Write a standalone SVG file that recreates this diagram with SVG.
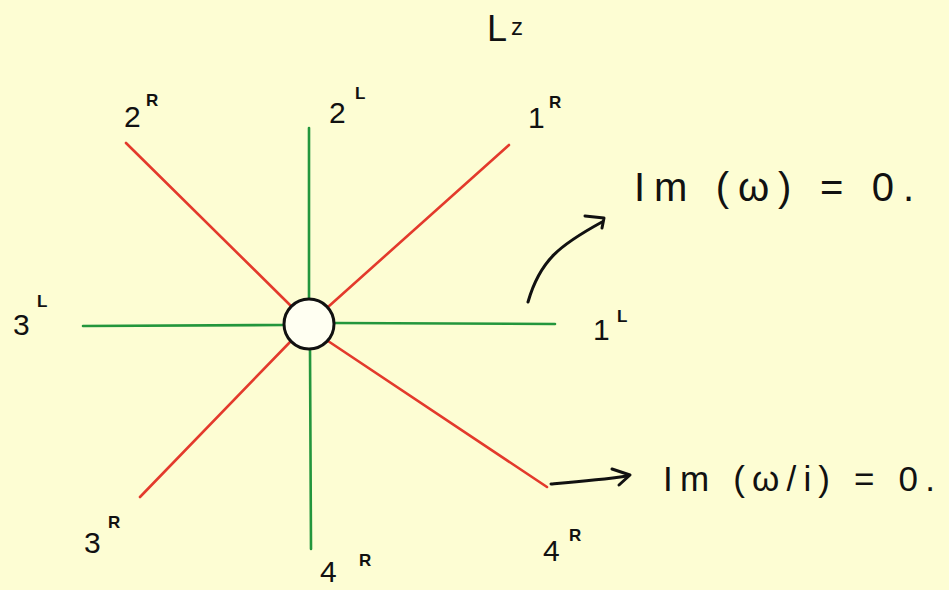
<svg xmlns="http://www.w3.org/2000/svg" width="949" height="590" viewBox="0 0 949 590">
  <style>
    .red { stroke: #e33a2c; stroke-width: 2.6; stroke-linecap: round; fill: none; }
    .grn { stroke: #23963c; stroke-width: 2.6; stroke-linecap: round; fill: none; }
    .ink { stroke: #111; stroke-width: 3; stroke-linecap: round; stroke-linejoin: round; fill: none; }
    .lbl { font-family: "Liberation Sans", Arial, sans-serif; fill: #111; font-size: 30px; }
    .sup { font-family: "Liberation Sans", Arial, sans-serif; fill: #111; font-size: 17px; font-weight: bold; }
    .eq { font-family: "Liberation Sans", Arial, sans-serif; fill: #111; }
  </style>
  <rect width="949" height="590" fill="#fdfdd3"/>

  <g id="connectors">
    <line class="grn" x1="309" y1="299" x2="309" y2="128"/>
    <line class="grn" x1="310" y1="349" x2="311" y2="549"/>
    <line class="grn" x1="284" y1="325" x2="83" y2="326"/>
    <line class="grn" x1="334" y1="323" x2="555" y2="324"/>
    <line class="red" x1="291" y1="306" x2="126" y2="143"/>
    <line class="red" x1="328" y1="307" x2="509" y2="145"/>
    <line class="red" x1="291" y1="341" x2="140" y2="497"/>
    <line class="red" x1="328" y1="341" x2="547" y2="487"/>
    <path class="ink" d="M528 302 C 540 260, 560 245, 602 222"/>
    <path class="ink" d="M585 216 L 604 218 L 602 228"/>
    <path class="ink" d="M551 484 C 575 482, 600 480, 627 476"/>
    <path class="ink" d="M612 469 L 630 475 L 619 485"/>
  </g>

  <g id="origin">
    <circle cx="309" cy="324" r="25" fill="#fffff2" stroke="#111" stroke-width="3"/>
  </g>

  <g id="title">
    <text class="eq" x="487" y="41" font-size="36">L</text>
    <text class="eq" x="511" y="35" font-size="24">z</text>
  </g>

  <g id="labels">
    <text class="lbl" x="124" y="127">2</text><text class="sup" x="146" y="106">R</text>
    <text class="lbl" x="329" y="123">2</text><text class="sup" x="355" y="99">L</text>
    <text class="lbl" x="528" y="128">1</text><text class="sup" x="549" y="108">R</text>
    <text class="lbl" x="13" y="335">3</text><text class="sup" x="37" y="307">L</text>
    <text class="lbl" x="593" y="340">1</text><text class="sup" x="617" y="322">L</text>
    <text class="lbl" x="84" y="553">3</text><text class="sup" x="108" y="528">R</text>
    <text class="lbl" x="320" y="582">4</text><text class="sup" x="359" y="566">R</text>
    <text class="lbl" x="543" y="561">4</text><text class="sup" x="569" y="541">R</text>
  </g>

  <g id="eq1">
    <text class="eq" x="634" y="201" font-size="40" textLength="280" lengthAdjust="spacing">Im (ω) = 0.</text>
  </g>
  <g id="eq2">
    <text class="eq" x="663" y="491" font-size="35" textLength="272" lengthAdjust="spacing">Im (ω/i) = 0.</text>
  </g>
</svg>
